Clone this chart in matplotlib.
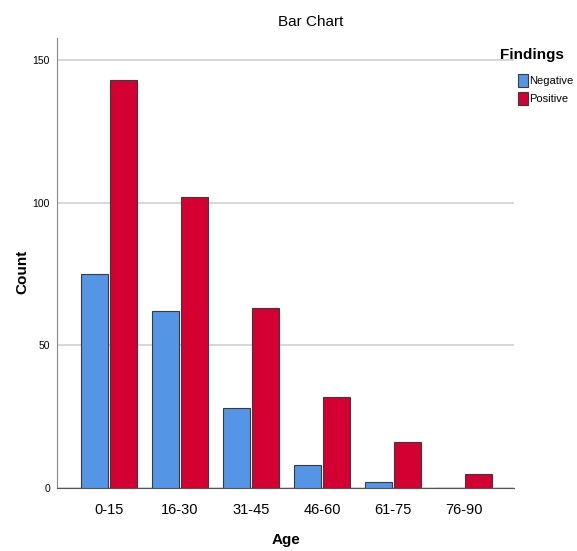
import numpy as np
import matplotlib
matplotlib.use("Agg")
import matplotlib.pyplot as plt

# ====== data ======
age_groups = ["0-15", "16-30", "31-45", "46-60", "61-75", "76-90"]
negative = [75, 62, 28, 8, 2, 0]
positive = [143, 102, 63, 32, 16, 5]

plt.rcParams["font.family"] = ["Liberation Sans Narrow", "Liberation Sans", "DejaVu Sans"]

fig = plt.figure(figsize=(5.77, 5.51), dpi=100)
ax = fig.add_axes([0.0988, 0.1143, 0.7922, 0.8167])

x = np.arange(len(age_groups))
w = 0.38
ax.bar(x - w / 2 - 0.015, negative, width=w, color="#5595e5", edgecolor="#3a3a3a",
       linewidth=0.8, label="Negative", zorder=3)
ax.bar(x + w / 2 + 0.015, positive, width=w, color="#d50032", edgecolor="#3a3a3a",
       linewidth=0.8, label="Positive", zorder=3)

ax.set_xlim(-0.73, 5.70)
ax.set_ylim(0, 157.7)
ax.set_yticks([0, 50, 100, 150])
ax.set_xticks(x)
ax.set_xticklabels(age_groups, fontsize=10.5)
ax.tick_params(axis="y", labelsize=7.5, length=0, pad=5)
ax.tick_params(axis="x", length=0, pad=11)
ax.grid(axis="y", color="#d0d0d0", linewidth=1.2, zorder=0)

for s in ["top", "right"]:
    ax.spines[s].set_visible(False)
ax.spines["left"].set_color("#888888")
ax.spines["bottom"].set_color("#555555")

ax.set_xlabel("Age", fontsize=11, fontweight="bold", va="center")
ax.xaxis.set_label_coords(0.5, -0.1156)
ax.set_ylabel("Count", fontsize=11, fontweight="bold", va="center")
ax.yaxis.set_label_coords(-0.0766, 0.48)
fig.text(311 / 577, 1 - 22 / 551, "Bar Chart", ha="center", va="center", fontsize=11)

# legend
fig.text(500 / 577, 1 - 55 / 551, "Findings", ha="left", va="center",
         fontsize=11, fontweight="bold")
leg = ax.legend(loc="upper left", bbox_to_anchor=(518 / 577, 1 - 74 / 551),
                bbox_transform=fig.transFigure, frameon=False, fontsize=8,
                handlelength=0.9, handleheight=1.4, handletextpad=0.1,
                labelspacing=0.45, borderpad=0, borderaxespad=0)

fig.savefig("out.png", dpi=100)
